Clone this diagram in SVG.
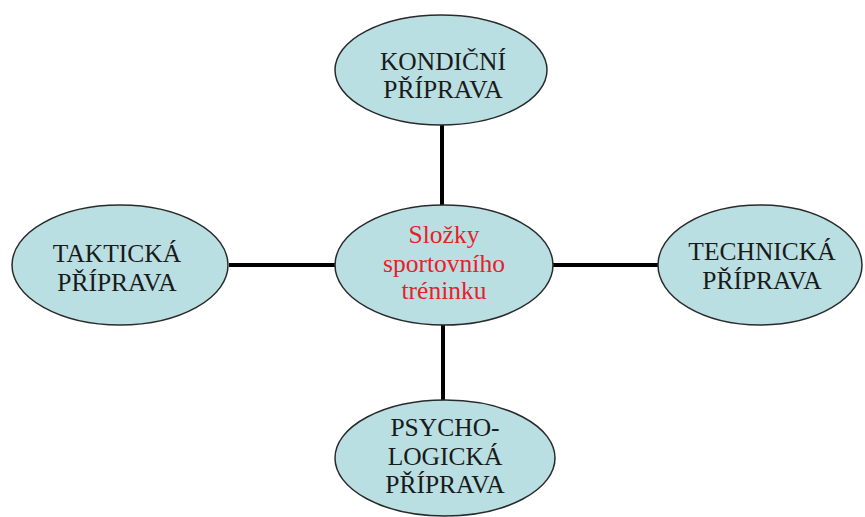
<svg xmlns="http://www.w3.org/2000/svg" width="865" height="517" viewBox="0 0 865 517">
<style>
.n{fill:#b9dfe2;stroke:#2a2a2a;stroke-width:1.5}
.t{font-family:"Liberation Serif","Times New Roman",serif;font-size:25.5px;fill:#1a1a1a;text-anchor:middle}
.r{fill:#e8202a}
.c{stroke:#000;stroke-width:4;fill:none}
</style>
<rect width="865" height="517" fill="#fff"/>
<g id="connectors">
<line class="c" x1="442" y1="124" x2="442" y2="206"/>
<line class="c" x1="229" y1="265" x2="336" y2="265"/>
<line class="c" x1="552" y1="265" x2="659" y2="265"/>
<line class="c" x1="443" y1="324" x2="443" y2="401"/>
</g>
<g id="kondicni">
<ellipse class="n" cx="441" cy="70" rx="106" ry="55"/>
<text class="t" x="443" y="70">KONDIČNÍ</text>
<text class="t" x="443" y="98">PŘÍPRAVA</text>
</g>
<g id="center">
<ellipse class="n" cx="444" cy="265" rx="109" ry="60"/>
<text class="t r" x="444" y="243">Složky</text>
<text class="t r" x="444" y="272">sportovního</text>
<text class="t r" x="444" y="299">tréninku</text>
</g>
<g id="takticka">
<ellipse class="n" cx="120" cy="265" rx="108" ry="60"/>
<text class="t" x="117" y="262">TAKTICKÁ</text>
<text class="t" x="117" y="291">PŘÍPRAVA</text>
</g>
<g id="technicka">
<ellipse class="n" cx="760" cy="265" rx="102" ry="60"/>
<text class="t" x="762" y="260">TECHNICKÁ</text>
<text class="t" x="762" y="289">PŘÍPRAVA</text>
</g>
<g id="psychologicka">
<ellipse class="n" cx="445" cy="458" rx="110" ry="58"/>
<text class="t" x="445" y="436">PSYCHO-</text>
<text class="t" x="445" y="465">LOGICKÁ</text>
<text class="t" x="445" y="493">PŘÍPRAVA</text>
</g>
</svg>
